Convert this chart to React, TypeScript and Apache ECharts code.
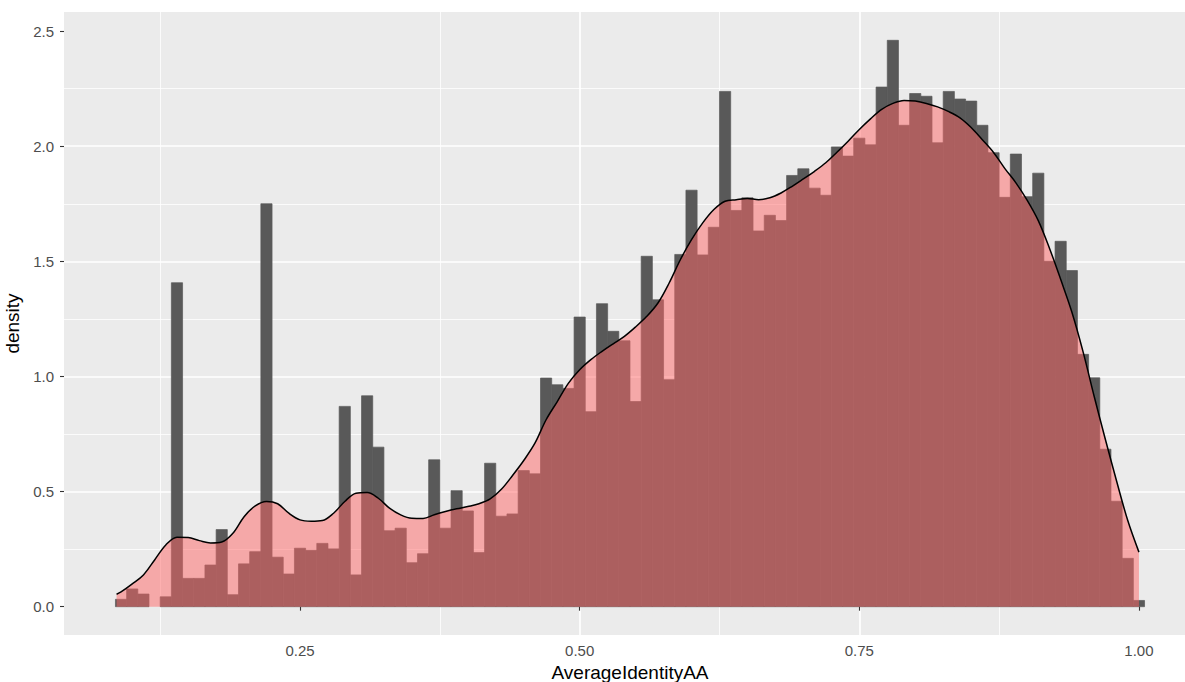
import React, { useEffect, useRef } from "react";
import * as echarts from "echarts";

// Histogram bins (centres), bin width 0.01
const binCenters = [
  0.09, 0.10, 0.11, 0.12, 0.13, 0.14, 0.15, 0.16, 0.17, 0.18, 0.19,
  0.20, 0.21, 0.22, 0.23, 0.24, 0.25, 0.26, 0.27, 0.28, 0.29,
  0.30, 0.31, 0.32, 0.33, 0.34, 0.35, 0.36, 0.37, 0.38, 0.39,
  0.40, 0.41, 0.42, 0.43, 0.44, 0.45, 0.46, 0.47, 0.48, 0.49,
  0.50, 0.51, 0.52, 0.53, 0.54, 0.55, 0.56, 0.57, 0.58, 0.59,
  0.60, 0.61, 0.62, 0.63, 0.64, 0.65, 0.66, 0.67, 0.68, 0.69,
  0.70, 0.71, 0.72, 0.73, 0.74, 0.75, 0.76, 0.77, 0.78, 0.79,
  0.80, 0.81, 0.82, 0.83, 0.84, 0.85, 0.86, 0.87, 0.88, 0.89,
  0.90, 0.91, 0.92, 0.93, 0.94, 0.95, 0.96, 0.97, 0.98, 0.99, 1.00,
];
const binWidth = 0.01;
const binDensity = [
  0.032, 0.077, 0.055, 0.0, 0.043, 1.407, 0.123, 0.123, 0.181, 0.335, 0.052,
  0.186, 0.239, 1.75, 0.215, 0.142, 0.254, 0.245, 0.275, 0.251, 0.87,
  0.138, 0.916, 0.693, 0.33, 0.341, 0.191, 0.23, 0.638, 0.341, 0.504,
  0.416, 0.235, 0.623, 0.393, 0.403, 0.591, 0.577, 0.993, 0.964, 0.948,
  1.258, 0.847, 1.316, 1.196, 1.155, 0.891, 1.522, 1.333, 0.986, 1.53,
  1.809, 1.528, 1.648, 2.238, 1.721, 1.776, 1.632, 1.7, 1.677, 1.873,
  1.902, 1.818, 1.787, 1.997, 1.957, 2.035, 2.006, 2.257, 2.46, 2.091,
  2.229, 2.217, 2.015, 2.238, 2.205, 2.196, 2.091, 1.972, 1.778, 1.966,
  1.781, 1.883, 1.5, 1.587, 1.46, 1.096, 0.994, 0.684, 0.458, 0.21, 0.027,
];

// Kernel density estimate
const densityX = [
  0.086, 0.09, 0.10, 0.11, 0.12, 0.13, 0.14, 0.15, 0.16, 0.17, 0.18, 0.19,
  0.20, 0.21, 0.22, 0.23, 0.24, 0.25, 0.26, 0.27, 0.28, 0.29,
  0.30, 0.31, 0.32, 0.33, 0.34, 0.35, 0.36, 0.37, 0.38, 0.39,
  0.40, 0.41, 0.42, 0.43, 0.44, 0.45, 0.46, 0.47, 0.48, 0.49,
  0.50, 0.51, 0.52, 0.53, 0.54, 0.55, 0.56, 0.57, 0.58, 0.59,
  0.60, 0.61, 0.62, 0.63, 0.64, 0.65, 0.66, 0.67, 0.68, 0.69,
  0.70, 0.71, 0.72, 0.73, 0.74, 0.75, 0.76, 0.77, 0.78, 0.79,
  0.80, 0.81, 0.82, 0.83, 0.84, 0.85, 0.86, 0.87, 0.88, 0.89,
  0.90, 0.91, 0.92, 0.93, 0.94, 0.95, 0.96, 0.97, 0.98, 0.99, 1.00,
];
const densityY = [
  0.054, 0.064, 0.099, 0.138, 0.203, 0.268, 0.302, 0.3, 0.287, 0.277, 0.281, 0.319,
  0.391, 0.438, 0.457, 0.447, 0.406, 0.377, 0.371, 0.374, 0.406, 0.457,
  0.493, 0.496, 0.471, 0.428, 0.399, 0.384, 0.383, 0.399, 0.413, 0.425,
  0.435, 0.447, 0.468, 0.51, 0.57, 0.635, 0.71, 0.812, 0.891, 0.971,
  1.029, 1.073, 1.109, 1.142, 1.174, 1.215, 1.261, 1.319, 1.406, 1.507,
  1.594, 1.667, 1.725, 1.761, 1.768, 1.773, 1.768, 1.776, 1.797, 1.826,
  1.858, 1.891, 1.928, 1.974, 2.022, 2.073, 2.119, 2.16, 2.186, 2.199,
  2.196, 2.186, 2.171, 2.15, 2.123, 2.081, 2.028, 1.973, 1.904, 1.841,
  1.766, 1.677, 1.557, 1.422, 1.28, 1.108, 0.913, 0.726, 0.546, 0.374, 0.237,
];

const xTicks = [0.25, 0.5, 0.75, 1.0];
const xTickLabels = ["0.25", "0.50", "0.75", "1.00"];
const yTicks = [0, 0.5, 1, 1.5, 2, 2.5];
const yTickLabels = ["0.0", "0.5", "1.0", "1.5", "2.0", "2.5"];

const FONT = "'Liberation Sans', Arial, Helvetica, sans-serif";

export default function App() {
  const ref = useRef<HTMLDivElement>(null);

  useEffect(() => {
    if (!ref.current) return;
    const chart = echarts.init(ref.current, null, { renderer: "svg" });

    const labelFor = (vals: number[], labels: string[]) => (v: number) => {
      const i = vals.findIndex((t) => Math.abs(t - v) < 1e-6);
      return i >= 0 ? labels[i] : "";
    };

    chart.setOption({
      animation: false,
      backgroundColor: "#ffffff",
      grid: {
        left: 64,
        top: 12,
        width: 1132,
        height: 623,
        show: true,
        backgroundColor: "#EBEBEB",
        borderWidth: 0,
        containLabel: false,
        outerBoundsMode: "none",
      },
      xAxis: {
        type: "value",
        min: 0.039,
        max: 1.051,
        minInterval: 0.25,
        maxInterval: 0.25,
        name: "AverageIdentityAA",
        nameLocation: "middle",
        nameGap: 28,
        nameTextStyle: { fontSize: 19, color: "#000000", fontFamily: FONT },
        axisLine: { show: false },
        axisTick: {
          show: true,
          length: 4,
          customValues: xTicks,
          lineStyle: { color: "#333333", width: 1.1 },
        },
        axisLabel: {
          customValues: xTicks,
          formatter: labelFor(xTicks, xTickLabels),
          color: "#4D4D4D",
          fontSize: 15,
          fontFamily: FONT,
          margin: 8,
        },
        splitLine: {
          show: true,
          showMinLine: false,
          showMaxLine: false,
          lineStyle: { color: "#FFFFFF", width: 1.7 },
        },
        minorTick: { show: false, splitNumber: 2 },
        minorSplitLine: { show: true, lineStyle: { color: "#FFFFFF", width: 0.8 } },
      },
      yAxis: {
        type: "value",
        min: -0.123,
        max: 2.583,
        minInterval: 0.5,
        maxInterval: 0.5,
        name: "density",
        nameLocation: "middle",
        nameRotate: 90,
        nameGap: 33,
        nameTextStyle: { fontSize: 19, color: "#000000", fontFamily: FONT },
        axisLine: { show: false },
        axisTick: {
          show: true,
          length: 4,
          customValues: yTicks,
          lineStyle: { color: "#333333", width: 1.1 },
        },
        axisLabel: {
          customValues: yTicks,
          formatter: labelFor(yTicks, yTickLabels),
          color: "#4D4D4D",
          fontSize: 15,
          fontFamily: FONT,
          margin: 10,
        },
        splitLine: {
          show: true,
          showMinLine: false,
          showMaxLine: false,
          lineStyle: { color: "#FFFFFF", width: 1.7 },
        },
        minorTick: { show: false, splitNumber: 2 },
        minorSplitLine: { show: true, lineStyle: { color: "#FFFFFF", width: 0.8 } },
      },
      series: [
        {
          type: "custom",
          z: 2,
          silent: true,
          encode: { x: 0, y: 1 },
          data: binCenters.map((c, i) => [c, binDensity[i]]),
          renderItem: (params: any, api: any) => {
            const c = api.value(0);
            const h = api.value(1);
            const p0 = api.coord([c - binWidth / 2, h]);
            const p1 = api.coord([c + binWidth / 2, 0]);
            return {
              type: "rect",
              shape: { x: p0[0], y: p0[1], width: p1[0] - p0[0], height: p1[1] - p0[1] },
              style: { fill: "#595959", stroke: h > 0 ? "#595959" : null, lineWidth: 0.7 },
            };
          },
        },
        {
          type: "line",
          z: 3,
          silent: true,
          data: densityX.map((x, i) => [x, densityY[i]]),
          showSymbol: false,
          smooth: 0.35,
          lineStyle: { color: "#000000", width: 1.5 },
          areaStyle: { color: "rgba(255,102,102,0.5)", opacity: 1 },
        },
      ],
    });

    return () => chart.dispose();
  }, []);

  return (
    <div
      style={{
        position: "fixed",
        left: 0,
        top: 0,
        width: 1185,
        height: 682,
        overflow: "hidden",
        background: "#ffffff",
      }}
    >
      <div ref={ref} style={{ position: "absolute", left: 0, top: 0, width: 1200, height: 682 }} />
    </div>
  );
}
